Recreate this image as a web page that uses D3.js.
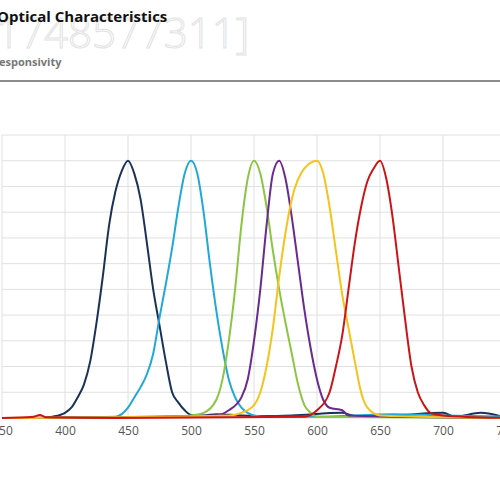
<!DOCTYPE html>
<html><head><meta charset="utf-8">
<script src="https://cdn.jsdelivr.net/npm/d3@7"></script>
<style>body{margin:0;background:#fff;overflow:hidden}</style>
</head><body>
<script>
// wavelength (nm) / relative response pairs per channel
const navy   = [[350,0],[380,0],[390,0.005],[400,0.02],[405,0.04],[410,0.08],[415,0.13],[420,0.22],[425,0.37],[430,0.55],[435,0.75],[440,0.88],[445,0.96],[450,1.0],[455,0.95],[460,0.85],[465,0.68],[470,0.5],[475,0.36],[480,0.22],[485,0.1],[490,0.06],[495,0.03],[500,0.012],[510,0.01],[520,0.015],[540,0.01],[560,0.008],[580,0.01],[620,0.02],[630,0.008],[660,0.01],[700,0.02],[710,0.005],[730,0.02],[745,0.008]];
const cyan   = [[350,0],[440,0.005],[445,0.015],[450,0.04],[455,0.08],[460,0.12],[465,0.17],[470,0.25],[475,0.39],[480,0.52],[485,0.66],[490,0.82],[495,0.95],[500,1.0],[505,0.95],[510,0.8],[515,0.6],[520,0.42],[525,0.27],[530,0.15],[535,0.08],[540,0.04],[545,0.02],[550,0.01],[560,0.005],[600,0.005],[660,0.015],[700,0.01],[750,0.005]];
const green  = [[350,0],[490,0.005],[500,0.01],[510,0.02],[520,0.07],[525,0.15],[530,0.3],[535,0.5],[540,0.75],[545,0.93],[550,1.0],[555,0.95],[560,0.82],[565,0.65],[570,0.5],[575,0.37],[580,0.25],[585,0.13],[590,0.05],[595,0.02],[600,0.005],[750,0]];
const purple = [[350,0],[520,0.01],[530,0.03],[540,0.08],[545,0.15],[550,0.3],[555,0.5],[560,0.75],[565,0.95],[570,1.0],[575,0.93],[580,0.78],[585,0.6],[590,0.42],[595,0.27],[600,0.15],[605,0.07],[610,0.04],[620,0.03],[625,0.01],[750,0]];
const yellow = [[350,0],[530,0.01],[540,0.02],[550,0.05],[555,0.1],[560,0.2],[565,0.35],[570,0.55],[575,0.72],[580,0.85],[590,0.97],[600,1.0],[605,0.95],[610,0.82],[615,0.65],[620,0.48],[625,0.35],[630,0.22],[635,0.1],[640,0.04],[650,0.01],[750,0]];
const red    = [[350,0],[375,0.005],[380,0.012],[385,0.003],[440,0],[590,0.005],[600,0.03],[610,0.1],[615,0.2],[620,0.32],[625,0.5],[630,0.68],[635,0.82],[640,0.92],[645,0.97],[650,1.0],[655,0.93],[660,0.78],[665,0.58],[670,0.38],[675,0.2],[680,0.1],[685,0.05],[690,0.02],[700,0.01],[750,0]];
const seriesList = [navy, cyan, green, purple, yellow, red];
const seriesColors = ["#1b3258", "#22a8d8", "#8cc544", "#6a2a8e", "#f6c21c", "#cc1418"];
const xTicks = [350, 400, 450, 500, 550, 600, 650, 700, 750];
const yTicks = d3.range(0, 1.101, 0.1);

const svg = d3.select("body").append("svg").attr("width", 500).attr("height", 500);

svg.append("text").attr("x", -4).attr("y", 48)
    .style("font-family", "Open Sans").style("font-size", "42px").style("font-weight", "300")
    .attr("fill", "#fff").attr("stroke", "#e2e2e2").attr("stroke-width", 1)
    .text("1748577311]");
svg.append("text").attr("x", -3).attr("y", 22)
    .style("font-family", "Open Sans").style("font-size", "15px").style("font-weight", "bold")
    .attr("fill", "#111").text("Optical Characteristics");
svg.append("text").attr("x", -1).attr("y", 66)
    .style("font-family", "Open Sans").style("font-size", "11px").style("font-weight", "bold")
    .attr("fill", "#777").text("esponsivity");
svg.append("line").attr("x1", 0).attr("x2", 500).attr("y1", 81).attr("y2", 81)
    .attr("stroke", "#666").attr("stroke-width", 1.5);

const x = d3.scaleLinear().domain([350, 750]).range([2, 506]);
const y = d3.scaleLinear().domain([0, 1.1]).range([418, 135]);

const grid = svg.append("g");
grid.selectAll(".h").data(yTicks).join("line")
    .attr("x1", 2).attr("x2", 500).attr("y1", d => y(d)).attr("y2", d => y(d))
    .attr("stroke", "#e0e0e0");
grid.selectAll(".v").data(xTicks).join("line")
    .attr("x1", d => x(d)).attr("x2", d => x(d)).attr("y1", y(1.1)).attr("y2", y(0))
    .attr("stroke", "#e0e0e0");

const xAxis = svg.append("g").attr("transform", "translate(0,418)")
    .call(d3.axisBottom(x).tickValues(xTicks).tickSize(0).tickPadding(8));
xAxis.select(".domain").remove();
xAxis.selectAll("text").style("font-family", "Open Sans").style("font-size", "12px").attr("fill", "#555");

const line = d3.line().x(d => x(d[0])).y(d => y(d[1])).curve(d3.curveMonotoneX);
svg.append("g").selectAll("path").data(seriesList).join("path")
    .attr("d", line).attr("fill", "none")
    .attr("stroke", (d, i) => seriesColors[i]).attr("stroke-width", 2);
</script>
</body></html>
